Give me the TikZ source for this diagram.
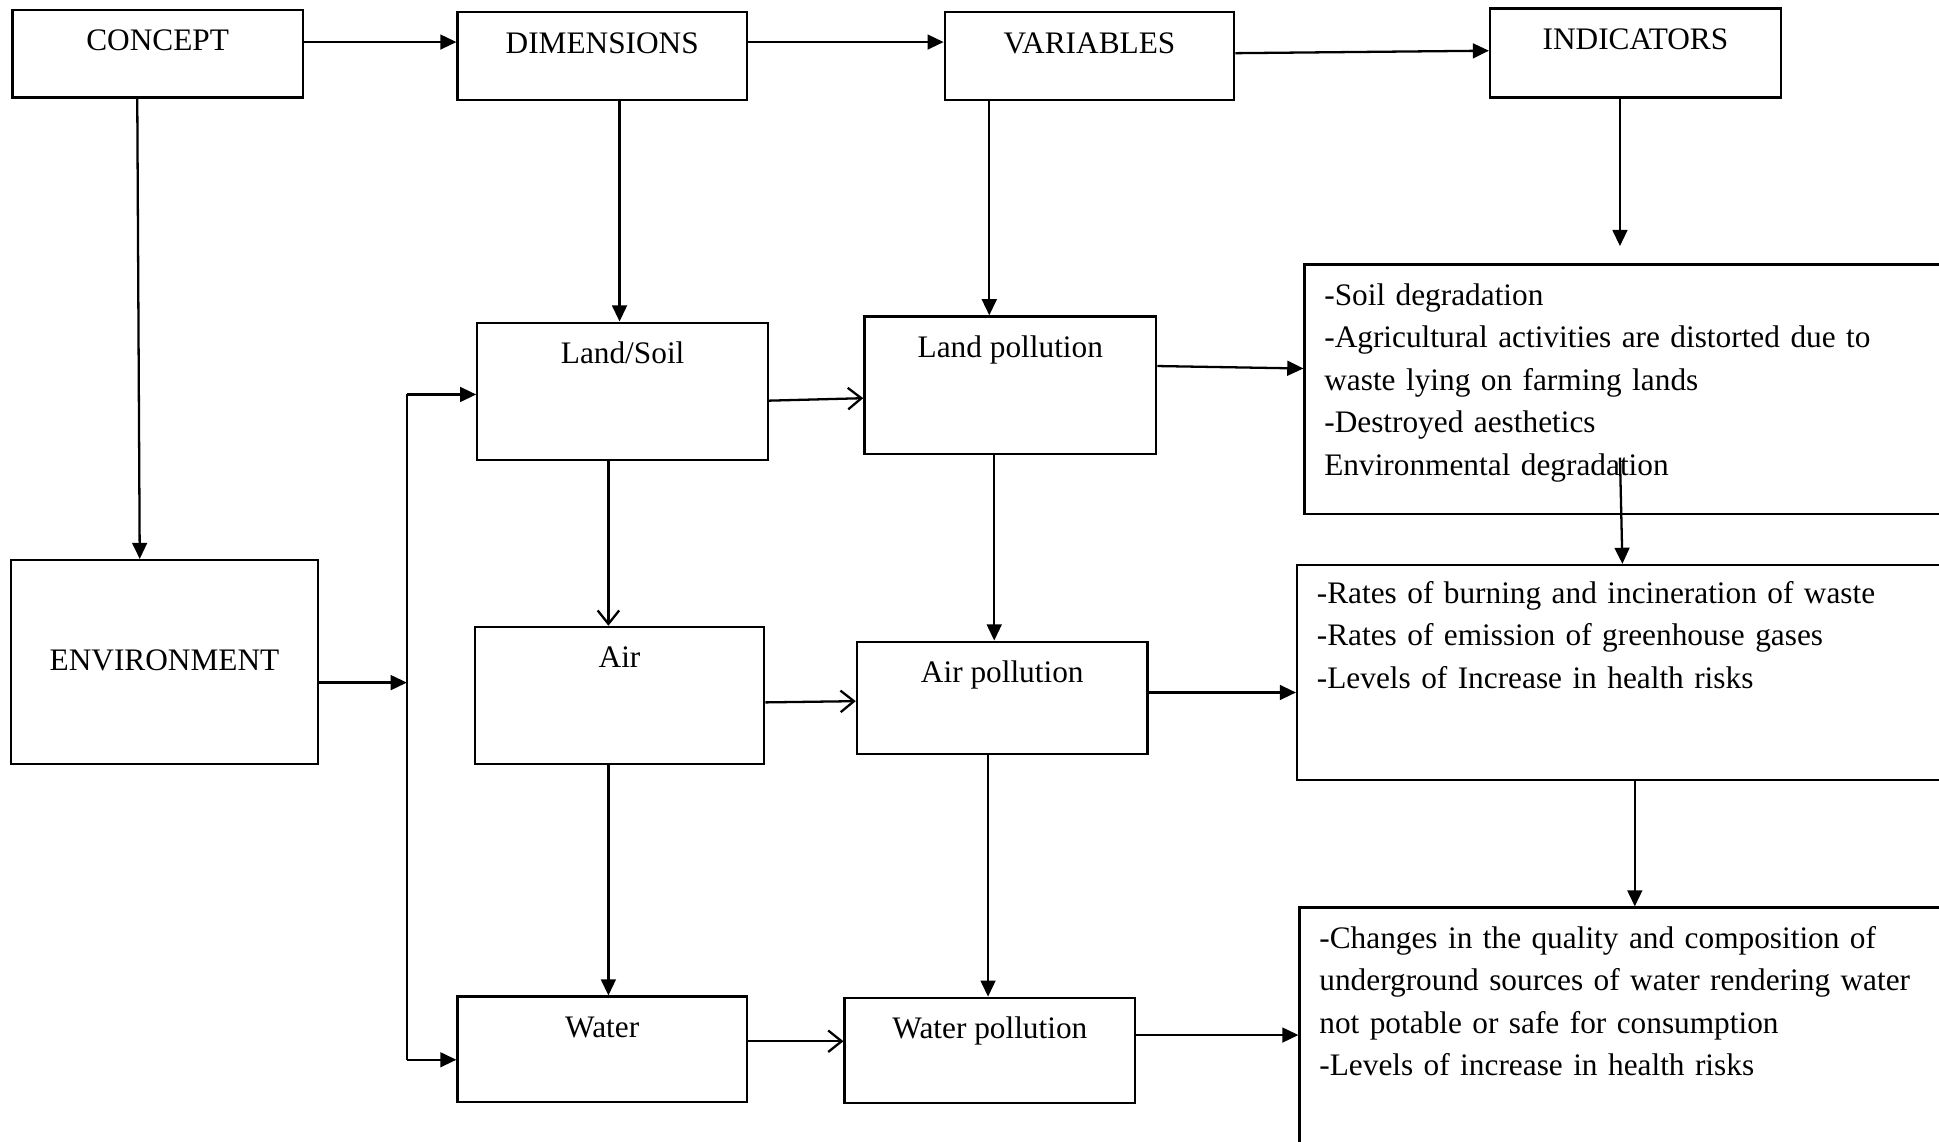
\documentclass[tikz,border=0pt]{standalone}
\usepackage{fontspec}
\setmainfont{Liberation Serif}
\usetikzlibrary{arrows.meta}
\newlength\px
\setlength\px{0.46pt}

\begin{document}
\begin{tikzpicture}[x=\px, y=-\px, font=\fontsize{11.65}{15.8}\selectfont]
    \tikzset{box/.style n args={3}{draw, line width=0.85pt, anchor=north, inner ysep=0pt, minimum width=#1\px, text height=#2\px, text depth=#3\px}}
    \tikzset{indbox/.style n args={2}{draw, line width=0.85pt, anchor=north west, align=left, inner ysep=0pt, inner xsep=16\px, text width=570\px, text height=#1\px, text depth=#2\px}}
    \tikzset{arr/.style = {line width=0.85pt, -{Triangle[length=6pt, width=5.5pt]}}}
    \tikzset{oarr/.style = {line width=0.85pt, -{Straight Barb[length=5pt, width=8pt]}}}

    \useasboundingbox (0,0) rectangle (1568,923);
    \clip (0,0) rectangle (1568,923);

    % boxes
    \node[box={235}{33}{38}] (concept) at (127.5,7) {CONCEPT};
    \node[box={234}{33}{38}] (dims) at (487,9) {DIMENSIONS};
    \node[box={234}{33}{38}] (vars) at (881,9) {VARIABLES};
    \node[box={235}{33}{39}] (inds) at (1322.5,6) {INDICATORS};
    \node[box={248}{89}{76}] (env) at (133,452) {ENVIRONMENT};
    \node[box={235}{33}{78}] (land) at (503.5,260) {Land/Soil};
    \node[box={236}{33}{78}] (landpol) at (817,255) {Land pollution};
    \node[box={234}{33}{78}] (air) at (501,506) {Air};
    \node[box={235}{33}{58}] (airpol) at (810.5,518) {Air pollution};
    \node[box={234}{33}{52}] (water) at (487,805) {Water};
    \node[box={235}{33}{52}] (waterpol) at (800.5,806) {Water pollution};

    \node[indbox={33}{169}] (indland) at (1054,213) {-Soil degradation\\-Agricultural activities are distorted due to\\waste lying on farming lands\\-Destroyed aesthetics\\Environmental degradation};
    \node[indbox={31}{143}] (indair) at (1048,456) {-Rates of burning and incineration of waste\\-Rates of emission of greenhouse gases\\-Levels of Increase in health risks};
    \node[indbox={33}{227}] (indwater) at (1050,733) {-Changes in the quality and composition of\\underground sources of water rendering water\\not potable or safe for consumption\\-Levels of increase in health risks};

    \coordinate (indtip) at (1310,199);
    \coordinate (indinner) at (1310,370);
    \coordinate (spinetop) at (329,319);
    \coordinate (spinemid) at (329,552);
    \coordinate (spinebot) at (329,857);

    % arrows
    \draw[arr] (concept.east |- 0,34) -- (dims.west |- 0,34);
    \draw[arr] (dims.east |- 0,34) -- (vars.west |- 0,34);
    \draw[arr] (vars.east |- 0,43) -- (inds.west |- 0,41);
    \draw[arr] (concept.south -| 111,0) -- (env.north -| 113,0);
    \draw[arr] (dims.south -| 501,0) -- (land.north -| 501,0);
    \draw[arr] (vars.south -| 800,0) -- (landpol.north -| 800,0);
    \draw[arr] (inds.south -| indtip) -- (indtip);

    \draw[arr] (env.east |- spinemid) -- (spinemid);
    \draw[line width=0.85pt] (spinetop) -- (spinebot);
    \draw[arr] (spinetop) -- (land.west |- spinetop);
    \draw[arr] (spinebot) -- (water.west |- spinebot);

    \draw[oarr] (land.east |- 0,324) -- (landpol.west |- 0,322);
    \draw[arr] (landpol.east |- 0,296) -- (indland.west |- 0,298);
    \draw[oarr] (land.south -| 492,0) -- (air.north -| 492,0);
    \draw[arr] (landpol.south -| 804,0) -- (airpol.north -| 804,0);
    \draw[arr] (indinner) -- (indair.north -| 1312,0);

    \draw[oarr] (air.east |- 0,568) -- (airpol.west |- 0,567);
    \draw[arr] (airpol.east |- 0,560) -- (indair.west |- 0,560);
    \draw[arr] (indair.south -| 1322,0) -- (indwater.north -| 1322,0);
    \draw[arr] (air.south -| 492,0) -- (water.north -| 492,0);
    \draw[arr] (airpol.south -| 799,0) -- (waterpol.north -| 799,0);

    \draw[oarr] (water.east |- 0,842) -- (waterpol.west |- 0,842);
    \draw[arr] (waterpol.east |- 0,837) -- (indwater.west |- 0,837);
\end{tikzpicture}
\end{document}
